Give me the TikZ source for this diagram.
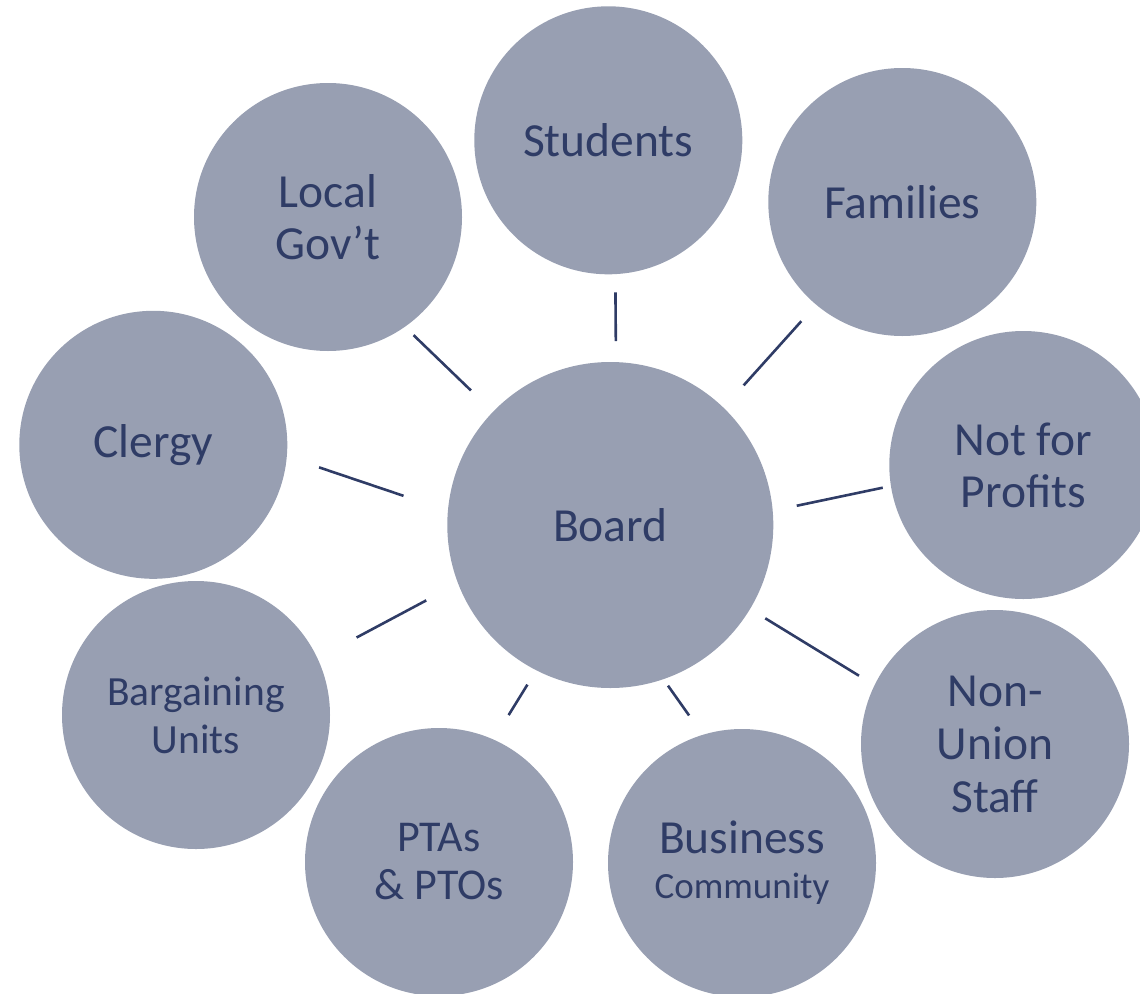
\documentclass[tikz,border=0pt]{standalone}
\usepackage{fontspec}
\setmainfont{Carlito}
\definecolor{bubble}{RGB}{152,159,178}
\definecolor{navy}{RGB}{47,60,102}
\begin{document}
\begin{tikzpicture}[x=1pt,y=-1pt,
  bub/.style={circle, fill=bubble, text=navy, inner sep=0pt, outer sep=0pt,
    minimum size=268pt, align=center, font=\fontsize{47.5}{52}\selectfont},
  hub/.style={bub, minimum size=326pt},
  link/.style={draw=navy, line width=2.6pt}]
\useasboundingbox (0,0) rectangle (1140,993);
\clip (0,0) rectangle (1140,993);
\node[hub] (board) at (610.3,525) {Board};
\node[bub] (students) at (608.3,140.3) {Students};
\node[bub] (local) at (328,217) {Local\\Gov’t};
\node[bub] (families) at (902.3,202) {Families};
\node[bub] (clergy) at (153.3,444.8) {Clergy};
\node[bub] (nfp) at (1023.3,465) {Not for\\Profits};
\node[bub, font=\fontsize{41.5}{48}\selectfont] (bargain) at (196,715) {Bargaining\\Units};
\node[bub, font=\fontsize{44}{48}\selectfont] (ptas) at (439,862) {PTAs\\\& PTOs};
\node[bub, font=\fontsize{47.5}{48}\selectfont] (business) at (742,863) {\raisebox{-3pt}{Business}\\{\fontsize{37}{44}\selectfont Community}};
\node[bub, font=\fontsize{47.5}{53}\selectfont] (nonunion) at (995,744) {Non-\\Union\\Staff};
\draw[link, shorten <=18.2pt, shorten >=21.1pt] (students.-87.1) -- (board.88.3);
\draw[link, shorten <=12.1pt, shorten >=30.7pt] (local.-55.5) -- (board.136.2);
\draw[link, shorten <=22.2pt, shorten >=30.1pt] (families.-130.9) -- (board.46.0);
\draw[link, shorten <=34.1pt, shorten >=46.9pt] (clergy.-5.8) -- (board.175.2);
\draw[link, shorten <=8.4pt, shorten >=24.6pt] (nfp.189) -- (board.5.35);
\draw[link, shorten <=44.3pt, shorten >=36.1pt] (bargain.25.0) -- (board.201.3);
\draw[link, shorten <=28.8pt, shorten >=16.9pt] (ptas.66.8) -- (board.243.6);
\draw[link, shorten <=23.8pt, shorten >=8.0pt] (business.107.4) -- (board.289.9);
\draw[link, shorten <=18.3pt, shorten >=17.9pt] (nonunion.154.9) -- (board.329.5);
\end{tikzpicture}
\end{document}
